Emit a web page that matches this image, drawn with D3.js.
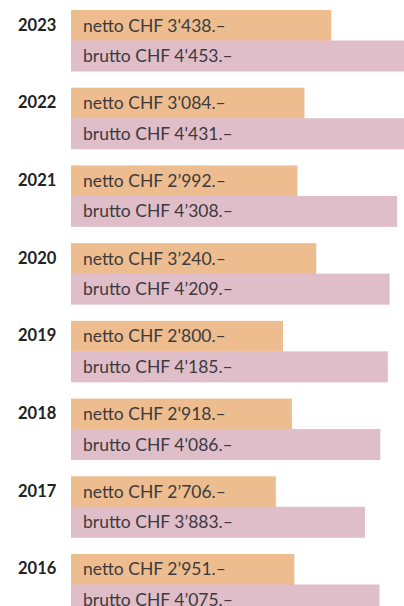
<!DOCTYPE html>
<html>
<head>
<meta charset="utf-8">
<script src="https://cdn.jsdelivr.net/npm/d3@7"></script>
<style>
	body { margin: 0; background: #fff; }
	svg { display: block; }
</style>
</head>
<body>
<svg id="chart" width="404" height="606"></svg>
<script>
'use strict';

// data, newest year first
var years = ["2023", "2022", "2021", "2020", "2019", "2018", "2017", "2016"];
var netto = [3438, 3084, 2992, 3240, 2800, 2918, 2706, 2951];
var brutto = [4453, 4431, 4308, 4209, 4185, 4086, 3883, 4075];
var nettoLabels = ["3'438", "3'084", "2’992", "3’240", "2'800", "2'918", "2’706", "2’951"];
var bruttoLabels = ["4'453", "4'431", "4’308", "4’209", "4'185", "4'086", "3’883", "4’075"];
var seriesNames = ["netto", "brutto"];

var colors = {netto: "#edbd90", brutto: "#dfbeca"};

function drawChart(svgName) {
	let svg = d3.select(svgName),
	width = +svg.attr("width");

	let rows = years.map(function (y, i) {
		return {
			year: y,
			values: [
				{key: "netto", value: netto[i], label: "netto CHF " + nettoLabels[i] + ".–"},
				{key: "brutto", value: brutto[i], label: "brutto CHF " + bruttoLabels[i] + ".–"}
			]
		};
	});

	let y = d3.scaleBand()
		.domain(years)
		.range([10, 615])
		.paddingInner(0.215)
		.paddingOuter(0);

	let y1 = d3.scaleBand()
		.domain(seriesNames)
		.range([0, y.bandwidth()]);

	let x = d3.scaleLinear()
		.domain([0, 5000])
		.range([71, 71 + 378.5]);

	let g = svg.selectAll(".year")
		.data(rows)
		.enter().append("g")
		.attr("class", "year")
		.attr("transform", function (d) {
			return "translate(0," + y(d.year) + ")";
		});

	g.append("text")
		.attr("x", 18)
		.attr("y", 20.5)
		.attr("fill", "#222")
		.style("font-family", "Lato, 'Open Sans', sans-serif")
		.style("font-weight", "bold")
		.style("font-size", "16.5px")
		.text(function (d) { return d.year; });

	let bars = g.selectAll(".bar")
		.data(function (d) { return d.values; })
		.enter().append("g")
		.attr("class", "bar");

	bars.append("rect")
		.attr("x", x(0))
		.attr("y", function (d) { return y1(d.key); })
		.attr("width", function (d) { return Math.min(x(d.value), width) - x(0); })
		.attr("height", y1.bandwidth() + 0.5)
		.attr("fill", function (d) { return colors[d.key]; });

	bars.append("text")
		.attr("x", 83)
		.attr("y", function (d) { return y1(d.key) + 21.5; })
		.attr("fill", "#3d3a3c")
		.style("font-family", "Lato, 'Open Sans', sans-serif")
		.style("font-size", "17.5px")
		.text(function (d) { return d.label; });
}

drawChart("#chart");
</script>
</body>
</html>
